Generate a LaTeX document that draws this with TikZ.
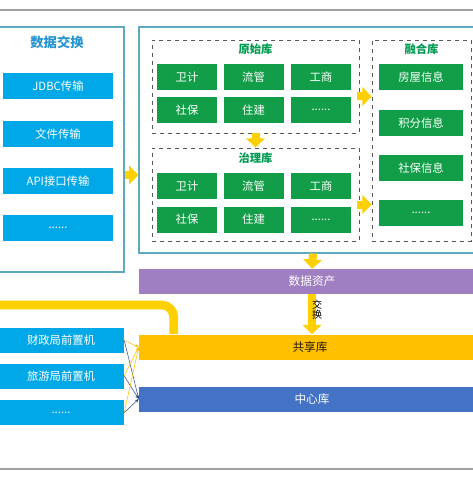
\documentclass[tikz,border=0pt]{standalone}
\usepackage{fontspec}
\setmainfont{Noto Sans CJK SC}
\usetikzlibrary{arrows.meta,calc}
\definecolor{lblue}{RGB}{0,168,232}
\definecolor{gbox}{RGB}{18,158,72}
\definecolor{ttlblue}{RGB}{40,150,210}
\definecolor{ttlgreen}{RGB}{0,155,80}
\definecolor{purp}{RGB}{160,126,194}
\definecolor{gold}{RGB}{255,192,0}
\definecolor{cblue}{RGB}{68,114,196}
\definecolor{yarr}{RGB}{255,208,0}
\definecolor{panel}{RGB}{95,170,190}
\definecolor{gline}{RGB}{160,160,160}
\begin{document}
\begin{tikzpicture}[x=0.75pt,y=-0.75pt,
  bluebox/.style={fill=lblue,text=white,inner sep=0pt,minimum width=82.5pt,minimum height=19.5pt,font=\fontsize{8.5}{9}\selectfont},
  frontbox/.style={fill=lblue,text=white,inner sep=0pt,minimum width=94.5pt,minimum height=18.75pt,font=\fontsize{8.5}{9}\selectfont},
  gbx/.style={fill=gbox,text=white,inner sep=0pt,minimum width=45pt,minimum height=19.5pt,font=\fontsize{8.5}{9}\selectfont},
  gwide/.style={fill=gbox,text=white,inner sep=0pt,minimum width=63pt,minimum height=19.5pt,font=\fontsize{8.5}{9}\selectfont},
  dbox/.style={draw=gray!70!black,dashed,line width=0.6pt,inner sep=0pt},
  dtitle/.style={text=ttlgreen,font=\bfseries\fontsize{8.5}{9}\selectfont},
  bar/.style={inner sep=0pt,minimum width=252pt,minimum height=18.75pt},
  bartext/.style={font=\fontsize{8.75}{9}\selectfont,inner sep=0pt},
  panelbox/.style={draw=panel,line width=0.8pt,inner sep=0pt},
  bigarrow/.style={draw=yarr,line width=6pt,-{Triangle[width=14pt,length=7pt]}},
  thinyel/.style={draw=yarr!80!orange,line width=0.4pt,-{Stealth[length=3pt,width=2.5pt]}},
  thinblue/.style={draw=cblue!70!black,line width=0.4pt,-{Stealth[length=3pt,width=2.5pt]}}
]
\useasboundingbox[fill=white] (0,0) rectangle (473,477);
% gray rules
\coordinate (tl) at (0,10); \coordinate (tr) at (473,10);
\coordinate (bl) at (0,469); \coordinate (br) at (473,469);
\draw[gline,line width=1pt] (tl) -- (tr);
\draw[gline,line width=1pt] (bl) -- (br);
% left panel
\node[panelbox,minimum width=93.75pt,minimum height=183.75pt] (lp) at (61.5,149.5) {};
\node[text=ttlblue,font=\bfseries\fontsize{10}{11}\selectfont] (lpt) at (57,42) {数据交换};
\node[bluebox] (b1) at (58,86.5) {JDBC传输};
\node[bluebox] (b2) at (58,134) {文件传输};
\node[bluebox] (b3) at (58,181) {API接口传输};
\node[bluebox] (b4) at (58,228) {......};
% middle panel
\node[panelbox,minimum width=253.5pt,minimum height=169.5pt] (mp) at (308,140) {};
% 原始库
\node[dbox,minimum width=155.25pt,minimum height=69.75pt] (orig) at (255.5,86.5) {};
\node[dtitle] (origt) at (255.5,49) {原始库};
\node[gbx] (o11) at (187,77.5) {卫计};
\node[gbx] (o12) at (253.5,77.5) {流管};
\node[gbx] (o13) at (321,77.5) {工商};
\node[gbx] (o21) at (187,110) {社保};
\node[gbx] (o22) at (253.5,110) {住建};
\node[gbx] (o23) at (321,110) {......};
% 治理库
\node[dbox,minimum width=155.25pt,minimum height=69.75pt] (zl) at (255.5,194.5) {};
\node[dtitle] (zlt) at (255.5,158) {治理库};
\node[gbx] (z11) at (187,186) {卫计};
\node[gbx] (z12) at (253.5,186) {流管};
\node[gbx] (z13) at (321,186) {工商};
\node[gbx] (z21) at (187,219.5) {社保};
\node[gbx] (z22) at (253.5,219.5) {住建};
\node[gbx] (z23) at (321,219.5) {......};
% 融合库
\node[dbox,minimum width=74.25pt,minimum height=150.75pt] (rh) at (421.5,140.5) {};
\node[dtitle] (rht) at (421.5,49) {融合库};
\node[gwide] (r1) at (421,77.5) {房屋信息};
\node[gwide] (r2) at (421,123) {积分信息};
\node[gwide] (r3) at (421,168) {社保信息};
\node[gwide] (r4) at (421,213) {......};
% bars
\node[bar,fill=purp] (asset) at (307,281.5) {};
\node[bar,fill=gold] (share) at (307,347) {};
\node[bar,fill=cblue] (center) at (307,399) {};
\node[bartext,text=white] (assett) at (312,281.5) {数据资产};
\node[bartext,text=black!80!brown] (sharet) at (310,347) {共享库};
\node[bartext,text=white] (centert) at (312,399) {中心库};
% bottom-left front machines
\node[frontbox] (f1) at (61,340.5) {财政局前置机};
\node[frontbox] (f2) at (61,376) {旅游局前置机};
\node[frontbox] (f3) at (61,412.5) {......};
% big yellow arrows
\draw[bigarrow] ($(lp.east)+(0.5,25.5)$) -- ($(mp.west)+(0,35)$);
\draw[bigarrow] (orig.south) -- (zl.north);
\draw[bigarrow] ($(orig.east)+(-2,10)$) -- ($(rh.west)+(0,-44)$);
\draw[bigarrow] ($(zl.east)+(-2,10)$) -- ($(rh.west)+(0,64)$);
\draw[bigarrow] ($(mp.south)+(5,0)$) -- ($(asset.north)+(5,0)$);
\draw[bigarrow] ($(asset.south)+(5,0)$) -- ($(share.north)+(5,0)$);
\node[font=\fontsize{7.5}{7.5}\selectfont,align=center,inner sep=0pt] (jh) at (317,310) {交\\换};
% thick yellow line
\coordinate (ys) at (-5,305);
\draw[yarr,line width=6.5pt,rounded corners=9pt] (ys) -| ($(share.north west)+(35,0)$);
% thin connectors
\foreach \b in {f1,f2,f3}{
  \draw[thinyel] (\b.east) -- (share.west);
  \draw[thinblue] (\b.east) -- (center.west);
}
\end{tikzpicture}
\end{document}
